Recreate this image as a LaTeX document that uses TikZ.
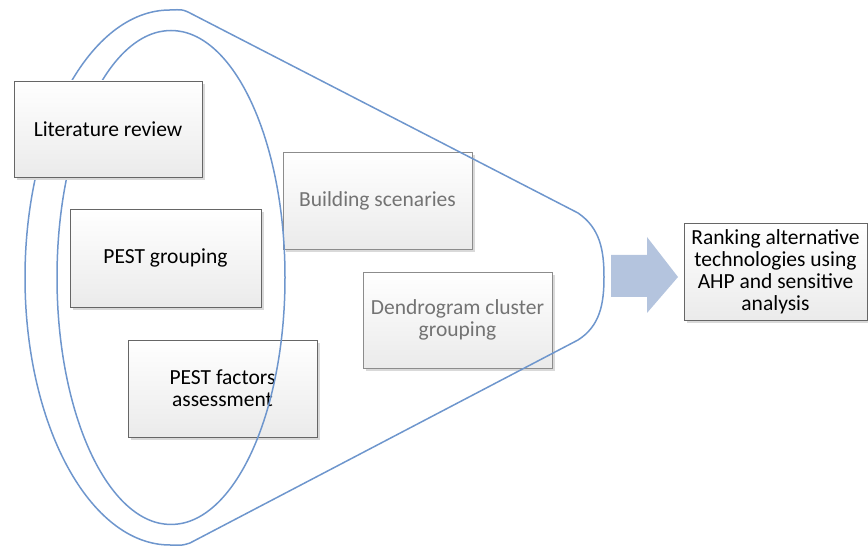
\documentclass[tikz,border=0pt]{standalone}
\usepackage{fontspec}
\setmainfont{Carlito}
\usetikzlibrary{shadows}
\definecolor{funnelblue}{RGB}{110,150,205}
\definecolor{arrowblue}{RGB}{180,196,222}
\tikzset{
  box/.style={draw=black!60, line width=0.8pt, top color=white, bottom color=black!8,
    align=center, font=\fontsize{21.5}{22}\selectfont, inner sep=0pt,
    drop shadow={shadow xshift=3pt, shadow yshift=-3pt, fill=black!15, opacity=1}},
  fadebox/.style={box, draw=black!45, text=black!55},
  funnel/.style={draw=funnelblue, line width=1.5pt},
}
\begin{document}
\begin{tikzpicture}[x=1pt,y=1pt]
\useasboundingbox (0,0) rectangle (868,548);
% lower boxes
\node[box, minimum width=191, minimum height=98] (pg) at (165.5,290) {PEST grouping};
\node[box, minimum width=189, minimum height=97] (pf) at (222.5,159.5) {PEST factors\\assessment};
\node[fadebox, minimum width=189, minimum height=97] (bs) at (377.5,347.5) {Building scenaries};
\node[fadebox, minimum width=189, minimum height=96] (dc) at (457.5,228) {Dendrogram cluster\\grouping};
% funnel
\draw[funnel] (578,335) -- (188,536) .. controls (182,538.5) .. (170,538)
  arc[start angle=90, end angle=270, x radius=145, y radius=267.5]
  .. controls (182,2.5) .. (190,5) -- (578,208)
  .. controls (600,222) and (604,244) .. (604,271)
  .. controls (604,298) and (600,320) .. (578,335) -- cycle;
\draw[funnel] (171,270.5) ellipse[x radius=114, y radius=247];
% top box
\node[box, minimum width=188, minimum height=96] (lr) at (108,419) {Literature review};
% block arrow
\fill[arrowblue] (611,293) -- (647,293) -- (647,311) -- (678,271) -- (647,235) -- (647,251) -- (611,251) -- cycle;
\node[box, minimum width=183, minimum height=97] (rk) at (775.5,276.5) {Ranking alternative\\technologies using\\AHP and sensitive\\analysis};
\end{tikzpicture}
\end{document}
